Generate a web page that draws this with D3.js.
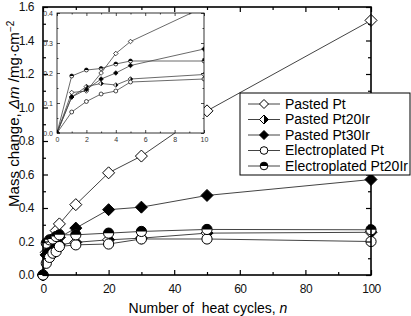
<!DOCTYPE html>
<html>
<head>
<meta charset="utf-8">
<script src="https://cdn.jsdelivr.net/npm/d3@7"></script>
<style>
  body { margin: 0; background: #fff; }
  svg { display: block; font-family: "Liberation Sans", Arial, sans-serif; }
</style>
</head>
<body>
<div id="container"></div>
<script>
const width = 411,
  height = 316,
  margin = { top: 7, right: 40, bottom: 41, left: 43 };

// inset frame position (pixels inside the svg)
const inset = { x0: 57, x1: 204, y0: 13, y1: 133 };

// cycles measured
const cycles = [0, 1, 2, 3, 4, 5, 10, 20, 30, 50, 100];

// mass change, mg/cm2
const pastedPt = [0, 0.135, 0.14, 0.2, 0.265, 0.305, 0.42, 0.61, 0.71, 0.98, 1.52];
const pastedPt20Ir = [0, 0.12, 0.155, 0.165, 0.16, 0.18, 0.195, 0.21, 0.22, 0.25, 0.255];
const pastedPt30Ir = [0, 0.12, 0.145, 0.18, 0.2, 0.225, 0.28, 0.39, 0.405, 0.475, 0.57];
const electroPt = [0, 0.07, 0.105, 0.13, 0.14, 0.17, 0.18, 0.185, 0.215, 0.215, 0.2];
const electroPt20Ir = [0, 0.19, 0.21, 0.215, 0.23, 0.24, 0.24, 0.25, 0.26, 0.272, 0.27];

const seriesNames = ["Pasted Pt", "Pasted Pt20Ir", "Pasted Pt30Ir", "Electroplated Pt", "Electroplated Pt20Ir"];
const seriesValues = [pastedPt, pastedPt20Ir, pastedPt30Ir, electroPt, electroPt20Ir];
const markerKinds = ["diamondOpen", "diamondHalf", "diamondFilled", "circleOpen", "circleHalf"];

const mainXTicks = [0, 20, 40, 60, 80, 100];
const mainYTicks = [0, 0.2, 0.4, 0.6, 0.8, 1.0, 1.2, 1.4, 1.6];
const insetXTicks = [0, 2, 4, 6, 8, 10];
const insetYTicks = [0, 0.1, 0.2, 0.3, 0.4];

const series = seriesNames.map((name, i) => ({
  name,
  kind: markerKinds[i],
  points: cycles.map((c, j) => ({ n: c, m: seriesValues[i][j] }))
}));

const lineColor = "#444";

const svg = d3.select("#container")
  .append("svg")
  .attr("width", width)
  .attr("height", height);

// draw a marker of a given kind centred at 0,0
function drawMarker(g, kind, s) {
  // s = half size
  if (kind.startsWith("diamond")) {
    const d = `M0,${-s}L${s},0L0,${s}L${-s},0Z`;
    g.append("path").attr("d", d)
      .attr("fill", kind === "diamondFilled" ? "#000" : "#fff")
      .attr("stroke", "#000").attr("stroke-width", s > 3 ? 1 : 0.7);
    if (kind === "diamondHalf") {
      g.append("path").attr("d", `M0,${-s}L${s},0L0,${s}Z`).attr("fill", "#000");
    }
  } else {
    const r = s * 0.85;
    g.append("circle").attr("r", r)
      .attr("fill", "#fff")
      .attr("stroke", "#000").attr("stroke-width", s > 3 ? 1 : 0.7);
    if (kind === "circleHalf") {
      g.append("path").attr("d", `M${-r},0A${r},${r} 0 0 1 ${r},0Z`).attr("fill", "#000");
    }
  }
}

// + MAIN PLOT
const xScale = d3.scaleLinear().domain([0, 100]).range([margin.left, width - margin.right]);
const yScale = d3.scaleLinear().domain([0, 1.6]).range([height - margin.bottom, margin.top]);

const plot = svg.append("g");

const lineGen = d3.line()
  .x(d => xScale(d.n))
  .y(d => yScale(d.m));

plot.selectAll(".line")
  .data(series)
  .join("path")
  .attr("class", "line")
  .attr("fill", "none")
  .attr("stroke", lineColor)
  .attr("stroke-width", 1)
  .attr("d", d => lineGen(d.points));

series.forEach(s => {
  s.points.forEach(p => {
    const g = plot.append("g").attr("transform", `translate(${xScale(p.n)},${yScale(p.m)})`);
    drawMarker(g, s.kind, 6);
  });
});

// axes: ticks pointing inward on all four sides
function frameAxes(xs, ys, xt, yt, xMinor, yMinor, opt) {
  const [xa, xb] = xs.range();
  const [yb, ya] = ys.range();
  const g = svg.append("g");
  g.append("rect")
    .attr("x", xa).attr("y", ya)
    .attr("width", xb - xa).attr("height", yb - ya)
    .attr("fill", "none").attr("stroke", "#000").attr("stroke-width", opt.frame);

  const bottom = d3.axisBottom(xs).tickValues(xt).tickSize(-opt.major).tickPadding(opt.major + opt.pad).tickFormat(d3.format("d"));
  const top = d3.axisTop(xs).tickValues(xt).tickSize(-opt.major).tickFormat("");
  const left = d3.axisLeft(ys).tickValues(yt).tickSize(-opt.major).tickPadding(opt.major + opt.pad).tickFormat(d3.format(".1f"));
  const right = d3.axisRight(ys).tickValues(yt).tickSize(-opt.major).tickFormat("");
  const bottomMinor = d3.axisBottom(xs).tickValues(xMinor).tickSize(-opt.minor).tickFormat("");
  const topMinor = d3.axisTop(xs).tickValues(xMinor).tickSize(-opt.minor).tickFormat("");
  const leftMinor = d3.axisLeft(ys).tickValues(yMinor).tickSize(-opt.minor).tickFormat("");
  const rightMinor = d3.axisRight(ys).tickValues(yMinor).tickSize(-opt.minor).tickFormat("");

  [[bottom, yb], [bottomMinor, yb], [top, ya], [topMinor, ya]].forEach(([ax, y]) => {
    g.append("g").attr("transform", `translate(0,${y})`).call(ax);
  });
  [[left, xa], [leftMinor, xa], [right, xb], [rightMinor, xb]].forEach(([ax, x]) => {
    g.append("g").attr("transform", `translate(${x},0)`).call(ax);
  });
  g.selectAll(".domain").remove();
  g.selectAll(".tick line").attr("stroke", "#000").attr("stroke-width", opt.tickW);
  g.selectAll(".tick text")
    .attr("fill", "#111")
    .style("font-size", opt.font + "px")
    .style("letter-spacing", opt.spacing + "px")
    .style("font-family", '"Liberation Sans", Arial, sans-serif');
  return g;
}

frameAxes(xScale, yScale, mainXTicks, mainYTicks,
  d3.range(10, 100, 20), d3.range(0.1, 1.6, 0.2),
  { frame: 1.6, major: 5, minor: 3, pad: 4, tickW: 1.2, font: 12, spacing: -0.5 });

// + INSET
const ixScale = d3.scaleLinear().domain([0, 10]).range([inset.x0, inset.x1]);
const iyScale = d3.scaleLinear().domain([0, 0.4]).range([inset.y1, inset.y0]);

svg.append("rect")
  .attr("x", inset.x0).attr("y", inset.y0)
  .attr("width", inset.x1 - inset.x0).attr("height", inset.y1 - inset.y0)
  .attr("fill", "#fff");

svg.append("clipPath").attr("id", "insetClip")
  .append("rect")
  .attr("x", inset.x0).attr("y", inset.y0)
  .attr("width", inset.x1 - inset.x0).attr("height", inset.y1 - inset.y0);

const insetG = svg.append("g").attr("clip-path", "url(#insetClip)");
const insetLine = d3.line().x(d => ixScale(d.n)).y(d => iyScale(d.m));

const insetSeries = series.map(s => ({ ...s, points: s.points.filter(p => p.n <= 10) }));

insetG.selectAll(".iline")
  .data(insetSeries)
  .join("path")
  .attr("class", "iline")
  .attr("fill", "none")
  .attr("stroke", lineColor)
  .attr("stroke-width", 0.8)
  .attr("d", d => insetLine(d.points));

insetSeries.forEach(s => {
  s.points.forEach(p => {
    const g = insetG.append("g").attr("transform", `translate(${ixScale(p.n)},${iyScale(p.m)})`);
    drawMarker(g, s.kind, 2.3);
  });
});

const insetAxes = frameAxes(ixScale, iyScale, insetXTicks, insetYTicks,
  d3.range(1, 10, 2), d3.range(0.05, 0.4, 0.1),
  { frame: 0.8, major: 3, minor: 1.5, pad: 1, tickW: 0.7, font: 7, spacing: 0 });
insetAxes.selectAll(".tick text").attr("fill", "#333");

// + LEGEND
const legend = svg.append("g").attr("transform", "translate(240,93)");
legend.append("rect")
  .attr("width", 170).attr("height", 82)
  .attr("fill", "#fff").attr("stroke", "#000").attr("stroke-width", 1);

const rows = legend.selectAll(".row")
  .data(series)
  .join("g")
  .attr("class", "row")
  .attr("transform", (d, i) => `translate(0,${11 + i * 15.5})`);

rows.append("line")
  .attr("x1", 8).attr("x2", 40)
  .attr("stroke", lineColor).attr("stroke-width", 1);

rows.each(function (d) {
  drawMarker(d3.select(this).append("g").attr("transform", "translate(24,0)"), d.kind, 4.5);
});

rows.append("text")
  .attr("x", 45)
  .attr("dy", "0.35em")
  .style("font-size", "14px")
  .text(d => d.name);

// + AXIS LABELS (squeezed horizontally to the narrow face of the original)
function fitText(text, target) {
  const w = text.node().getBBox().width;
  return target / w;
}

const xLabelG = svg.append("g");
const xLabel = xLabelG.append("text")
  .attr("text-anchor", "middle")
  .style("font-size", "14px")
  .html('Number of&#160; heat cycles, <tspan font-style="italic">n</tspan>');
xLabelG.attr("transform", `translate(208,313) scale(${fitText(xLabel, 159)},1)`);

const yLabelG = svg.append("g");
const yLabel = yLabelG.append("text")
  .attr("text-anchor", "start")
  .style("font-size", "15px");
yLabel.append("tspan").text("Mass change,  ");
yLabel.append("tspan").attr("font-style", "italic").text("Δm");
yLabel.append("tspan").text("  /mg·cm");
yLabel.append("tspan").attr("dy", "-0.5em").style("font-size", "10px").text("−2");
yLabelG.attr("transform", `translate(19,207) rotate(-90) scale(${fitText(yLabel, 187)},1)`);
</script>
</body>
</html>
